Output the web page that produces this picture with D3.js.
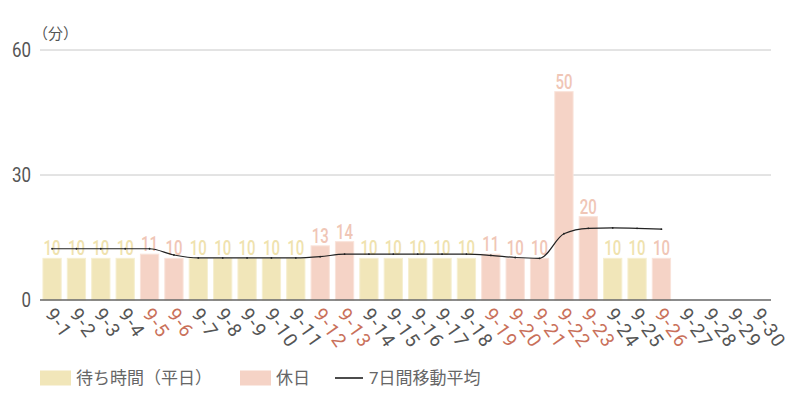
<!DOCTYPE html>
<html>
<head>
<meta charset="utf-8">
<script src="https://cdn.jsdelivr.net/npm/d3@7"></script>
<style>
  body { margin: 0; background: #fff; }
  text { font-family: Roboto, "Noto Sans CJK JP", sans-serif; }
</style>
</head>
<body>
<div id="chart"></div>
<script>
// September wait times (minutes)
const days = d3.range(1, 31).map(d => `9-${d}`);
const waitValues = [10, 10, 10, 10, 11, 10, 10, 10, 10, 10, 10, 13, 14, 10, 10,
                    10, 10, 10, 11, 10, 10, 50, 20, 10, 10, 10];
const holidays = ['9-5', '9-6', '9-12', '9-13', '9-19', '9-20', '9-21', '9-22', '9-23', '9-26'];
const movingAvg = [12.3, 12.3, 12.3, 12.3, 12.3, 10.8, 10.1, 10.1, 10.1, 10.1, 10.1, 10.4, 11.0, 11.0, 11.0,
                   11.0, 11.0, 11.0, 10.7, 10.2, 10.0, 15.9, 17.2, 17.3, 17.2, 17.0];
const yTicks = [0, 30, 60];

const width = 800, height = 400;
const margin = { top: 50, right: 29, bottom: 100, left: 40 };

const colors = {
    weekday: '#f1e6b9',
    weekdayLabel: '#efe2ae',
    holiday: '#f5d3c6',
    holidayLabel: '#f0c6b6',
    holidayTick: '#c9705a',
    tick: '#555',
    grid: '#c8c8c8'
};

const svg = d3.select('#chart').append('svg')
    .attr('width', width)
    .attr('height', height);

const x = d3.scaleBand()
    .domain(days)
    .range([margin.left, width - margin.right])
    .paddingInner(0.25)
    .paddingOuter(0.12);

const y = d3.scaleLinear()
    .domain([0, 60])
    .range([height - margin.bottom, margin.top]);

// Grid lines
svg.append('g')
    .selectAll('line')
    .data(yTicks.filter(t => t > 0))
    .enter().append('line')
    .attr('x1', margin.left)
    .attr('x2', width - margin.right)
    .attr('y1', d => y(d))
    .attr('y2', d => y(d))
    .attr('stroke', colors.grid)
    .attr('stroke-width', 1);

// Y axis labels
svg.append('g')
    .selectAll('text')
    .data(yTicks)
    .enter().append('text')
    .attr('x', 31)
    .attr('y', d => y(d))
    .attr('dy', '0.35em')
    .attr('text-anchor', 'end')
    .attr('font-size', 21)
    .attr('textLength', d => String(d).length * 9.5)
    .attr('lengthAdjust', 'spacingAndGlyphs')
    .attr('fill', colors.tick)
    .text(d => d);

svg.append('text')
    .attr('x', 33)
    .attr('y', 39)
    .attr('font-size', 15)
    .attr('fill', colors.tick)
    .text('（分）');

const isHoliday = d => holidays.includes(d);

// Bars
const barData = waitValues.map((v, i) => ({ day: days[i], value: v }));

svg.append('g')
    .selectAll('rect')
    .data(barData)
    .enter().append('rect')
    .attr('x', d => x(d.day))
    .attr('y', d => y(d.value))
    .attr('width', x.bandwidth())
    .attr('height', d => y(0) - y(d.value))
    .attr('fill', d => isHoliday(d.day) ? colors.holiday : colors.weekday)
    .attr('stroke', d => isHoliday(d.day) ? '#f9e3da' : '#f6efd0')
    .attr('stroke-width', 1);

// Value labels
svg.append('g')
    .selectAll('text')
    .data(barData)
    .enter().append('text')
    .attr('x', d => x(d.day) + x.bandwidth() / 2)
    .attr('y', d => y(d.value) - 3)
    .attr('text-anchor', 'middle')
    .attr('font-size', 21)
    .attr('font-weight', 500)
    .attr('textLength', d => String(d.value).length * 8.5)
    .attr('lengthAdjust', 'spacingAndGlyphs')
    .attr('fill', d => isHoliday(d.day) ? colors.holidayLabel : colors.weekdayLabel)
    .text(d => d.value);

// Baseline
svg.append('line')
    .attr('x1', margin.left)
    .attr('x2', width - margin.right)
    .attr('y1', y(0))
    .attr('y2', y(0))
    .attr('stroke', '#666')
    .attr('stroke-width', 1.5);

// X axis labels
svg.append('g')
    .selectAll('text')
    .data(days)
    .enter().append('text')
    .attr('transform', d => `translate(${x(d) + x.bandwidth() / 2 - 7.5},${y(0) + 14}) rotate(55)`)
    .attr('text-anchor', 'start')
    .attr('font-size', 19)
    .attr('letter-spacing', 1.5)
    .attr('fill', d => isHoliday(d) ? colors.holidayTick : colors.tick)
    .text(d => d);

// 7-day moving average
const avgData = movingAvg.map((v, i) => ({ day: days[i], value: v }));
const line = d3.line()
    .x(d => x(d.day) + x.bandwidth() / 2)
    .y(d => y(d.value))
    .curve(d3.curveMonotoneX);

svg.append('path')
    .datum(avgData)
    .attr('d', line)
    .attr('fill', 'none')
    .attr('stroke', '#222')
    .attr('stroke-width', 1.2);

svg.append('g')
    .selectAll('circle')
    .data(avgData)
    .enter().append('circle')
    .attr('cx', d => x(d.day) + x.bandwidth() / 2)
    .attr('cy', d => y(d.value))
    .attr('r', 0.9)
    .attr('fill', '#222');

// Legend
const legend = svg.append('g').attr('transform', 'translate(0,378)');

legend.append('rect').attr('x', 40).attr('y', -7.5).attr('width', 31).attr('height', 15).attr('fill', colors.weekday);
legend.append('text').attr('x', 76).attr('dy', '0.35em').attr('font-size', 17).attr('fill', '#666').text('待ち時間（平日）');

legend.append('rect').attr('x', 240).attr('y', -7.5).attr('width', 31).attr('height', 15).attr('fill', colors.holiday);
legend.append('text').attr('x', 276).attr('dy', '0.35em').attr('font-size', 17).attr('fill', '#666').text('休日');

legend.append('line').attr('x1', 335).attr('x2', 363).attr('y1', 0).attr('y2', 0).attr('stroke', '#111').attr('stroke-width', 1.5);
legend.append('text').attr('x', 369).attr('dy', '0.35em').attr('font-size', 17).attr('fill', '#666').text('7日間移動平均');
</script>
</body>
</html>
